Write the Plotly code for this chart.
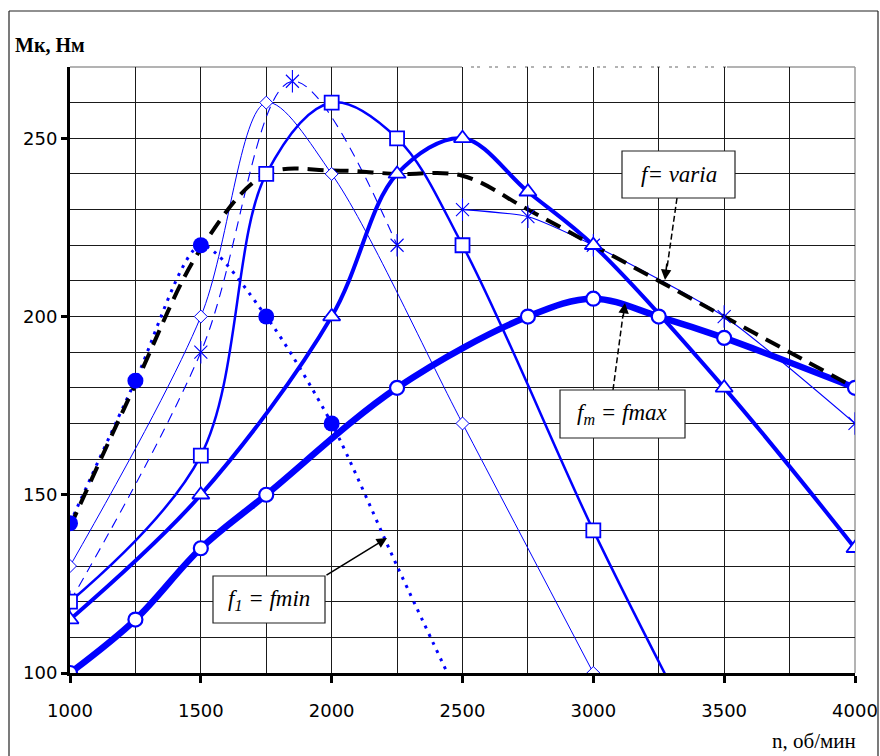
import plotly.graph_objects as go

# ---------------- data ----------------
# f1 = fmin (filled circles, dotted line); last two points only continue the line
FMIN_X = [1000, 1250, 1500, 1750, 2000, 2250, 2500]
FMIN_Y = [142, 182, 220, 200, 170, 130, 91]
FMIN_NMARK = 5

# f = varia (black dashed line, no markers)
VAR_X = [1000, 1250, 1500, 1750, 2000, 2250, 2500, 2750, 3000, 3250, 3500, 3750, 4000]
VAR_Y = [141, 181, 219, 240, 241, 240, 239.5, 230, 220, 210, 200, 190, 180]

# open diamonds, thin solid
DIA_X = [1000, 1500, 1750, 2000, 2500, 3000]
DIA_Y = [130, 200, 260, 240, 170, 100]

# asterisks: dashed part and solid part
AST1_X = [1000, 1500, 1850, 2250]
AST1_Y = [120, 190, 266, 220]
AST2_X = [2500, 2750, 3000, 3500, 4000]
AST2_Y = [230, 228, 220, 200, 170]

# open squares
SQ_X = [1000, 1500, 1750, 2000, 2250, 2500, 3000, 3300]
SQ_Y = [120, 161, 240, 260, 250, 220, 140, 96]
SQ_NMARK = 7

# open triangles
TRI_X = [1000, 1500, 2000, 2250, 2500, 2750, 3000, 3500, 4000]
TRI_Y = [115, 150, 200, 240, 250, 235, 220, 180, 135]

# open circles, f_m = fmax
CIR_X = [1000, 1250, 1500, 1750, 2250, 2750, 3000, 3250, 3500, 4000]
CIR_Y = [100, 115, 135, 150, 180, 200, 205, 200, 194, 180]

X_TICKS = [1000, 1500, 2000, 2500, 3000, 3500, 4000]
Y_TICKS = [100, 150, 200, 250]

BLUE = "#0000FF"
SERIF = "Liberation Serif"
SANS = "DejaVu Sans"

fig = go.Figure()


def line(x, y, width, color=BLUE, dash="solid", smoothing=1.0):
    fig.add_trace(go.Scatter(x=x, y=y, mode="lines", showlegend=False, hoverinfo="skip",
                             line=dict(color=color, width=width, dash=dash,
                                       shape="spline", smoothing=smoothing)))


def marks(x, y, symbol, size, fill="white", lw=1.5, color=BLUE):
    fig.add_trace(go.Scatter(x=x, y=y, mode="markers", showlegend=False, hoverinfo="skip",
                             marker=dict(symbol=symbol, size=size, color=fill,
                                         line=dict(color=color, width=lw))))


# lines
line(DIA_X, DIA_Y, 1, smoothing=0.9)
line(AST1_X, AST1_Y, 1.1, dash="10px,7px")
line(AST2_X, AST2_Y, 1.1, smoothing=0.6)
line(SQ_X, SQ_Y, 2.5)
line(TRI_X, TRI_Y, 4)
line(CIR_X, CIR_Y, 6.5)
line(FMIN_X, FMIN_Y, 3, dash="3px,6px", smoothing=0.75)
line(VAR_X, VAR_Y, 4, color="black", dash="16px,9px")

# markers
marks(DIA_X, DIA_Y, "diamond", 10, lw=1)
marks(AST1_X + AST2_X, AST1_Y + AST2_Y, "x-thin-open", 13, fill=BLUE, lw=1.1)
marks(AST1_X + AST2_X, AST1_Y + AST2_Y, "line-ns-open", 16, fill=BLUE, lw=1.1)
marks(SQ_X[:SQ_NMARK], SQ_Y[:SQ_NMARK], "square", 14, lw=1.8)
marks(TRI_X, TRI_Y, "triangle-up", 15, lw=1.8)
marks(CIR_X, CIR_Y, "circle", 14, lw=2.2)
marks(FMIN_X[:FMIN_NMARK], FMIN_Y[:FMIN_NMARK], "circle", 16, fill=BLUE, lw=0)

# ---------------- layout ----------------
OFF = 0                       # body margin removed by the post script below
W, H = 880 - OFF, 756 - OFF
PL, PR, PT, PB = 70, 855, 67, 673   # plot-area edges in window pixels
L, T = PL - OFF, PT - OFF
R, B = W - (PR - OFF), H - (PB - OFF)
PW, PH = PR - PL, PB - PT


def px2paper(px, py):
    return (px - PL) / PW, (PB - py) / PH


GRID = "#1a1a1a"
fig.update_layout(
    width=W, height=H, margin=dict(l=L, r=R, t=T, b=B, autoexpand=False),
    paper_bgcolor="white", plot_bgcolor="white",
    font=dict(family=SANS, size=18, color="black"),
    xaxis=dict(range=[1000, 4000], tickvals=X_TICKS, showgrid=True, gridcolor=GRID,
               gridwidth=1, showline=True, linecolor="black", linewidth=3, zeroline=False,
               ticks="outside", ticklen=7, tickwidth=3, tickcolor="black", automargin=False,
               ticklabelstandoff=12, tickfont=dict(family=SANS, size=18),
               minor=dict(dtick=250, showgrid=True, gridcolor=GRID, gridwidth=1, ticks="")),
    yaxis=dict(range=[100, 270], tickvals=Y_TICKS, showgrid=True, gridcolor=GRID,
               gridwidth=1, showline=True, linecolor="black", linewidth=3, zeroline=False,
               ticks="outside", ticklen=6, tickwidth=3, tickcolor="black", automargin=False,
               tickfont=dict(family=SANS, size=18),
               minor=dict(dtick=10, showgrid=True, gridcolor=GRID, gridwidth=1, ticks="")),
)

shapes = []
# top & right gray borders
shapes.append(dict(type="line", xref="paper", yref="paper", x0=0, x1=1, y0=1, y1=1,
                   line=dict(color="#9a9a9a", width=1.5), layer="between"))
shapes.append(dict(type="line", xref="paper", yref="paper", x0=1, x1=1, y0=0, y1=1,
                   line=dict(color="#9a9a9a", width=1.5), layer="between"))
# dash-dot white overlay on top border
x0p, _ = px2paper(462, 67)
x1p, _ = px2paper(727, 67)
shapes.append(dict(type="line", xref="paper", yref="paper", x0=x0p, x1=x1p, y0=1, y1=1,
                   line=dict(color="white", width=2, dash="dashdot"), layer="between"))
# outer frame (three visible sides)
fx0, fy0 = px2paper(9, 11)
fx1, fy1 = px2paper(878, 760)
for a0, b0, a1, b1 in [(fx0, fy1, fx0, fy0), (fx0, fy0, fx1, fy0), (fx1, fy0, fx1, fy1)]:
    shapes.append(dict(type="line", xref="paper", yref="paper", x0=a0, y0=b0, x1=a1, y1=b1,
                       line=dict(color="#222", width=1.2), layer="above"))


def box(px0, py0, px1, py1):
    a0, b0 = px2paper(px0, py0)
    a1, b1 = px2paper(px1, py1)
    shapes.append(dict(type="rect", xref="paper", yref="paper", x0=a0, x1=a1, y0=b1, y1=b0,
                       line=dict(color="#222", width=1.2), fillcolor="white", layer="above"))
    return (a0 + a1) / 2, (b0 + b1) / 2


def dline(px0, py0, px1, py1, dash="dash"):
    a0, b0 = px2paper(px0, py0)
    a1, b1 = px2paper(px1, py1)
    shapes.append(dict(type="line", xref="paper", yref="paper", x0=a0, x1=a1, y0=b0, y1=b1,
                       line=dict(color="black", width=1.5, dash=dash), layer="above"))


# arrow lines (dashed)
dline(677, 198, 667, 268, dash="6px,3px")
dline(613, 390, 623, 315, dash="6px,3px")

c_var = box(622, 151, 735, 198)
c_max = box(560, 390, 685, 438)
c_min = box(213, 576, 325, 623)
fig.update_layout(shapes=shapes)

ann = []
for (cx, cy), txt in [(c_var, "<i>f= varia</i>"), (c_max, "<i>f<sub>m</sub> = fmax</i>"),
                      (c_min, "<i>f<sub>1</sub> = fmin</i>")]:
    ann.append(dict(xref="paper", yref="paper", x=cx, y=cy, text=txt, showarrow=False,
                    xanchor="center", yanchor="middle",
                    font=dict(family=SERIF, size=23, color="black")))


def arrow(tx, ty, hx, hy):
    a, b = px2paper(hx, hy)
    ann.append(dict(xref="paper", yref="paper", x=a, y=b, ax=tx - hx, ay=ty - hy,
                    axref="pixel", ayref="pixel", text="", showarrow=True,
                    arrowhead=2, arrowsize=1.3, arrowwidth=1.6, arrowcolor="black",
                    standoff=0, startstandoff=0))


arrow(667, 262, 665, 280)
arrow(623, 318, 625, 303)
arrow(325, 576, 387, 538)

tx, ty = px2paper(13, 45)
ann.append(dict(xref="paper", yref="paper", x=tx, y=ty, text="<b>Мк, Нм</b>", showarrow=False,
                xanchor="left", yanchor="middle", font=dict(family=SERIF, size=20, color="black")))
tx, ty = px2paper(858, 741)
ann.append(dict(xref="paper", yref="paper", x=tx, y=ty, text="n, об/мин", showarrow=False,
                xanchor="right", yanchor="middle", font=dict(family=SERIF, size=21, color="black")))
fig.update_layout(annotations=ann)

PAGE_CSS = ("document.body.style.margin='0';"
            "document.body.style.overflow='hidden';")
fig.write_html("out.html", post_script=PAGE_CSS, config={"displayModeBar": False})
